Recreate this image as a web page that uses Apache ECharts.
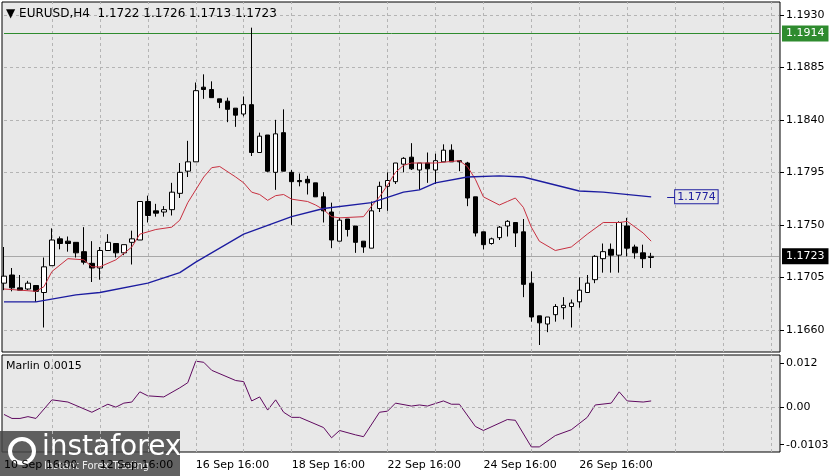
<!DOCTYPE html>
<html>
<head>
<meta charset="utf-8">
<script src="https://cdn.jsdelivr.net/npm/echarts@6/dist/echarts.min.js"></script>
<style>html,body{margin:0;padding:0;background:#fff}#main{width:838px;height:476px}</style>
</head>
<body>
<div id="main"></div>
<script>
// EURUSD H4 candles: [open, close, low, high]
var candles = [
 [1.1700,1.1706,1.1694,1.1731],[1.1707,1.1696,1.1693,1.1713],[1.1696,1.1694,1.1694,1.1707],[1.1695,1.1700,1.1694,1.1702],
 [1.1698,1.1693,1.1684,1.1698],[1.1692,1.1714,1.1662,1.1722],[1.1715,1.1737,1.1715,1.1747],[1.1738,1.1734,1.1729,1.1740],
 [1.1736,1.1734,1.1727,1.1740],[1.1735,1.1726,1.1722,1.1735],[1.1727,1.1718,1.1716,1.1748],[1.1717,1.1713,1.1701,1.1736],
 [1.1713,1.1728,1.1703,1.1731],[1.1728,1.1735,1.1728,1.1742],[1.1734,1.1726,1.1722,1.1734],[1.1726,1.1733,1.1724,1.1733],
 [1.1735,1.1738,1.1716,1.1745],[1.1737,1.1770,1.1737,1.1770],[1.1770,1.1758,1.1752,1.1775],[1.1762,1.1760,1.1757,1.1768],
 [1.1761,1.1763,1.1757,1.1766],[1.1763,1.1778,1.1758,1.1786],[1.1777,1.1795,1.1773,1.1803],[1.1796,1.1804,1.1791,1.1822],
 [1.1804,1.1865,1.1804,1.1872],[1.1868,1.1866,1.1858,1.1879],[1.1866,1.1859,1.1859,1.1873],[1.1858,1.1855,1.1850,1.1858],
 [1.1856,1.1849,1.1838,1.1859],[1.1850,1.1844,1.1834,1.1850],[1.1845,1.1853,1.1843,1.1860],[1.1853,1.1812,1.1809,1.1919],
 [1.1812,1.1826,1.1812,1.1829],[1.1827,1.1796,1.1795,1.1827],[1.1795,1.1828,1.1780,1.1840],[1.1829,1.1796,1.1796,1.1849],
 [1.1795,1.1787,1.1750,1.1797],[1.1788,1.1787,1.1783,1.1794],[1.1789,1.1786,1.1776,1.1792],[1.1786,1.1774,1.1774,1.1786],
 [1.1774,1.1762,1.1752,1.1778],[1.1761,1.1737,1.1730,1.1769],[1.1736,1.1754,1.1736,1.1756],[1.1755,1.1746,1.1740,1.1755],
 [1.1749,1.1735,1.1726,1.1749],[1.1736,1.1731,1.1726,1.1736],[1.1730,1.1762,1.1730,1.1770],[1.1764,1.1783,1.1761,1.1787],
 [1.1783,1.1788,1.1762,1.1795],[1.1787,1.1803,1.1785,1.1803],[1.1802,1.1807,1.1795,1.1808],[1.1808,1.1798,1.1797,1.1820],
 [1.1797,1.1803,1.1780,1.1803],[1.1803,1.1798,1.1786,1.1812],[1.1797,1.1805,1.1785,1.1811],[1.1804,1.1814,1.1804,1.1819],
 [1.1814,1.1804,1.1804,1.1819],[1.1805,1.1804,1.1796,1.1805],[1.1803,1.1773,1.1766,1.1804],[1.1774,1.1743,1.1740,1.1774],
 [1.1744,1.1733,1.1729,1.1744],[1.1734,1.1738,1.1733,1.1739],[1.1739,1.1748,1.1737,1.1749],[1.1749,1.1753,1.1740,1.1754],
 [1.1752,1.1743,1.1731,1.1752],[1.1744,1.1699,1.1688,1.1755],[1.1700,1.1671,1.1667,1.1710],[1.1672,1.1666,1.1647,1.1672],
 [1.1665,1.1671,1.1658,1.1671],[1.1673,1.1680,1.1667,1.1682],[1.1679,1.1681,1.1669,1.1688],[1.1680,1.1683,1.1662,1.1686],
 [1.1684,1.1694,1.1679,1.1705],[1.1692,1.1700,1.1692,1.1707],[1.1703,1.1723,1.1700,1.1724],[1.1721,1.1727,1.1709,1.1734],
 [1.1729,1.1724,1.1709,1.1734],[1.1724,1.1752,1.1709,1.1753],[1.1749,1.1730,1.1723,1.1756],[1.1731,1.1726,1.1721,1.1733],
 [1.1726,1.1721,1.1713,1.1733],[1.1722,1.1723,1.1713,1.1726]
];

// moving averages: [bar index, value]
var fastMa = [[0,1.1695],[2,1.1694],[4,1.1693],[5,1.1697],[6,1.1710],[8,1.1721],[10,1.1720],[11,1.1714],[12,1.1714],
 [14,1.1720],[16,1.1731],[17,1.1742],[19,1.1746],[21,1.1748],[22,1.1754],[23,1.1769],[25,1.1791],[26,1.1799],[27,1.1800],
 [29,1.1791],[30,1.1786],[31,1.1778],[32,1.1776],[33,1.1771],[34,1.1775],[35,1.1776],[36,1.1772],[38,1.1770],[39,1.1767],
 [40,1.1763],[41,1.1757],[42,1.1756],[45,1.1757],[46,1.1766],[47,1.1774],[48,1.1784],[49,1.1795],[50,1.1801],[51,1.1803],
 [54,1.1803],[57,1.1805],[58,1.1800],[59,1.1789],[60,1.1774],[62,1.1767],[63,1.1770],[64,1.1773],[65,1.1765],[66,1.1748],
 [67,1.1736],[69,1.1728],[71,1.1731],[73,1.1742],[75,1.1752],[77,1.1752],[78,1.1753],[80,1.1743],[81,1.1736]];
var slowMa = [[0,1.1684],[4,1.1684],[9,1.1690],[12,1.1692],[18,1.1700],[22,1.1709],[24,1.1718],[30,1.1742],[36,1.1757],
 [40,1.1764],[46,1.1769],[50,1.1778],[52,1.1780],[54,1.1786],[58,1.1791],[62,1.1792],[65,1.1791],[72,1.1779],[75,1.1778],[81,1.1774]];

// Marlin oscillator
var marlin = [[0,-0.0020],[1,-0.0031],[2,-0.0031],[3,-0.0026],[4,-0.0031],[6,0.0020],[8,0.0014],[11,-0.0014],[13,0.0008],
 [14,0.0000],[15,0.0011],[16,0.0014],[17,0.0042],[18,0.0031],[20,0.0028],[22,0.0053],[23,0.0067],[24,0.0126],[25,0.0123],
 [26,0.0101],[29,0.0073],[30,0.0070],[31,0.0017],[32,0.0028],[33,-0.0008],[34,0.0020],[35,-0.0014],[36,-0.0028],[37,-0.0028],
 [40,-0.0056],[41,-0.0084],[42,-0.0064],[44,-0.0076],[45,-0.0081],[47,-0.0014],[48,-0.0011],[49,0.0011],[51,0.0003],
 [52,0.0006],[53,0.0003],[55,0.0017],[56,0.0008],[57,0.0008],[59,-0.0053],[60,-0.0064],[63,-0.0034],[64,-0.0036],
 [66,-0.0109],[67,-0.0109],[69,-0.0078],[71,-0.0062],[73,-0.0028],[74,0.0006],[76,0.0011],[77,0.0042],[78,0.0017],
 [80,0.0014],[81,0.0017]];

var priceTicks = [1.1660, 1.1705, 1.1750, 1.1795, 1.1840, 1.1885, 1.1930];
var marlinTicks = [-0.0103, 0, 0.012];
var dateLabels = {0:'10 Sep 16:00',12:'12 Sep 16:00',24:'16 Sep 16:00',36:'18 Sep 16:00',48:'22 Sep 16:00',60:'24 Sep 16:00',72:'26 Sep 16:00'};
var slots = 98;

var cats = [];
for (var i = 0; i < slots; i++) cats.push(String(i));
var vGrid = [];
for (var j = 6; j < slots; j += 6) vGrid.push({xAxis: String(j)});
function sparse(arr) {
    var out = new Array(candles.length).fill(null);
    arr.forEach(function (p) { out[p[0]] = p[1]; });
    return out;
}
// full-width horizontal line at a value
function hLine(v, style, label) {
    return [{coord: ['0', v], lineStyle: style, label: label || {show: false}}, {coord: [String(slots - 1), v]}];
}
var FONT = 'DejaVu Sans';
var gridLine = {color: '#b4b4b4', type: [3, 3], width: 1};
function tag(text, fg, bg, border) {
    return {show: true, position: 'end', distance: 4, formatter: text, color: fg, backgroundColor: bg,
        borderColor: border || bg, borderWidth: 1, padding: [2, 3, 1, 3], fontFamily: FONT, fontSize: 11};
}

var myChart = echarts.init(document.getElementById('main'));
var option = {
    animation: false,
    backgroundColor: '#ffffff',
    graphic: [
        {type: 'rect', z: -10, shape: {x: 2, y: 2, width: 778, height: 350}, style: {fill: '#e8e8e8', stroke: '#000', lineWidth: 1}},
        {type: 'rect', z: -10, shape: {x: 2, y: 355, width: 778, height: 97}, style: {fill: '#e8e8e8', stroke: '#000', lineWidth: 1}},
        {type: 'text', left: 6, top: 8, z: 20, style: {text: '\u25BC EURUSD,H4  1.1722 1.1726 1.1713 1.1723', font: '12px ' + FONT, fill: '#000'}},
        {type: 'text', left: 6, top: 361, z: 20, style: {text: 'Marlin 0.0015', font: '11px ' + FONT, fill: '#000'}},
        {type: 'group', left: 0, top: 431, z: 30, children: [
            {type: 'rect', shape: {x: 0, y: 0, width: 180, height: 45}, style: {fill: 'rgba(70,70,70,0.85)'}},
            {type: 'circle', shape: {cx: 22, cy: 20, r: 12}, style: {fill: 'none', stroke: '#fff', lineWidth: 4}},
            {type: 'text', style: {x: 42, y: 3, text: 'instaforex', font: '28px ' + FONT, fill: '#ffffff'}},
            {type: 'text', style: {x: 44, y: 30, text: 'Instant Forex Trading', font: '10px ' + FONT, fill: '#eeeeee'}}
        ]}
    ],
    grid: [
        {left: -1, width: 784, top: 2, height: 350},
        {left: -1, width: 784, top: 355, height: 97}
    ],
    xAxis: [
        {type: 'category', gridIndex: 0, data: cats, boundaryGap: true, axisLine: {show: false}, axisTick: {show: false}, axisLabel: {show: false}, splitLine: {show: false}},
        {type: 'category', gridIndex: 1, data: cats, boundaryGap: true, axisLine: {show: false}, axisTick: {show: false}, splitLine: {show: false},
         axisLabel: {interval: 0, align: 'left', margin: 8, fontFamily: FONT, fontSize: 11, color: '#000',
            formatter: function (v) { return dateLabels[v] || ''; }}}
    ],
    yAxis: [
        {type: 'value', gridIndex: 0, position: 'right', min: 1.1641, max: 1.1941, offset: -3, splitLine: {show: false},
         axisLine: {show: false}, axisTick: {show: true, length: 4, customValues: priceTicks, lineStyle: {color: '#000'}},
         axisLabel: {customValues: priceTicks, margin: 6, fontFamily: FONT, fontSize: 11, color: '#000',
            formatter: function (v) { return v.toFixed(4); }}},
        {type: 'value', gridIndex: 1, position: 'right', min: -0.0123, max: 0.0143, offset: -3, splitLine: {show: false},
         axisLine: {show: false}, axisTick: {show: true, length: 4, customValues: marlinTicks, lineStyle: {color: '#000'}},
         axisLabel: {customValues: marlinTicks, margin: 6, fontFamily: FONT, fontSize: 11, color: '#000',
            formatter: function (v) { return v === 0 ? '0.00' : String(v); }}}
    ],
    series: [
        {type: 'candlestick', xAxisIndex: 0, yAxisIndex: 0, data: candles, barWidth: 5, z: 4,
         itemStyle: {color: '#ffffff', color0: '#000000', borderColor: '#000000', borderColor0: '#000000', borderWidth: 1}},
        {type: 'line', xAxisIndex: 0, yAxisIndex: 0, data: sparse(fastMa), connectNulls: true, symbol: 'none', lineStyle: {color: '#c83040', width: 1}, z: 5},
        {type: 'line', xAxisIndex: 0, yAxisIndex: 0, data: sparse(slowMa), connectNulls: true, symbol: 'none', lineStyle: {color: '#1c1ca0', width: 1.3}, z: 5,
         markLine: {silent: true, symbol: 'none', animation: false, z: 1,
            data: vGrid.map(function (d) { return Object.assign({lineStyle: gridLine, label: {show: false}}, d); })
              .concat(priceTicks.map(function (p) { return hLine(p, gridLine); }))
              .concat([
                hLine(1.1914, {color: '#2e8b2e', type: 'solid', width: 1}, tag('1.1914', '#fff', '#2e8b2e')),
                hLine(1.1723, {color: '#a8a8a8', type: 'solid', width: 1}, tag('1.1723', '#fff', '#000')),
                [{coord: ['83', 1.1774], lineStyle: {color: '#2020a0', type: 'solid', width: 1},
                  label: {show: true, position: 'end', distance: 0, formatter: '1.1774', color: '#2020a0', backgroundColor: '#e8e8e8', borderColor: '#2020a0', borderWidth: 1, padding: [1, 2], fontFamily: FONT, fontSize: 11}},
                 {coord: ['84', 1.1774]}]
              ])}
        },
        {type: 'line', xAxisIndex: 1, yAxisIndex: 1, data: sparse(marlin), connectNulls: true, symbol: 'none', lineStyle: {color: '#600a60', width: 1},
         markLine: {silent: true, symbol: 'none', label: {show: false},
            data: vGrid.map(function (d) { return Object.assign({lineStyle: gridLine}, d); }).concat([hLine(0, gridLine)])}}
    ]
};
option && myChart.setOption(option);
</script>
</body>
</html>
